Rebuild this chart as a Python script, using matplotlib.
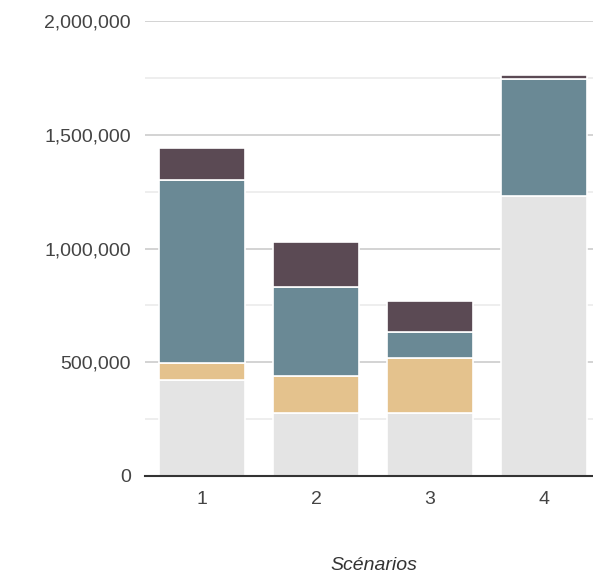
import numpy as np
import matplotlib.pyplot as plt
from matplotlib.ticker import FuncFormatter, MultipleLocator

# data (values in units)
scenarios = ['1', '2', '3', '4']
base = [422000, 276000, 276000, 1231000]
tan = [76000, 162000, 243000, 0]
teal = [801000, 393000, 113000, 515000]
dark = [143000, 197000, 136000, 17000]

series = [base, tan, teal, dark]
colors = ['#e4e4e4', '#e4c28d', '#6a8995', '#5b4a54']

plt.rcParams['font.family'] = ['Liberation Sans', 'DejaVu Sans']

fig = plt.figure(figsize=(5.93, 5.74), dpi=100)
W, H = 593, 574
# axes runs a little past the right edge, as in the reference
ax = fig.add_axes([145 / W, (H - 476) / H, (601 - 145) / W, (476 - 21) / H])

x = np.arange(len(scenarios))
bottom = np.zeros(len(scenarios))
for vals, c in zip(series, colors):
    v = np.array(vals, dtype=float)
    ax.bar(x, v, bottom=bottom, width=0.75, color=c,
           edgecolor='white', linewidth=1.2, zorder=3)
    bottom += v

ax.set_xlim(-0.5, len(scenarios) - 0.5)
ax.set_ylim(0, 2000000)
ax.yaxis.set_major_locator(MultipleLocator(500000))
ax.yaxis.set_minor_locator(MultipleLocator(250000))
ax.yaxis.set_major_formatter(FuncFormatter(lambda v, p: f'{int(v):,}'))
ax.grid(axis='y', which='major', color='#cccccc', linewidth=1.2, zorder=0)
ax.grid(axis='y', which='minor', color='#ebebeb', linewidth=1.2, zorder=0)
ax.set_axisbelow(True)

ax.set_xticks(x)
ax.set_xticklabels(scenarios)
for s in ['top', 'right', 'left']:
    ax.spines[s].set_visible(False)
ax.spines['bottom'].set_color('#333333')
ax.spines['bottom'].set_linewidth(1.5)
ax.spines['bottom'].set_zorder(4)

ax.tick_params(axis='both', which='both', length=0, labelsize=14,
               colors='#444444')
ax.tick_params(axis='y', pad=10)
ax.tick_params(axis='x', pad=11)

ax.set_xlabel('Scénarios', fontsize=14, style='italic', color='#333333',
              va='center')
ax.xaxis.set_label_coords((374 - 145) / (601 - 145), -(565 - 476) / (476 - 21))

fig.savefig('out.png', dpi=100)
